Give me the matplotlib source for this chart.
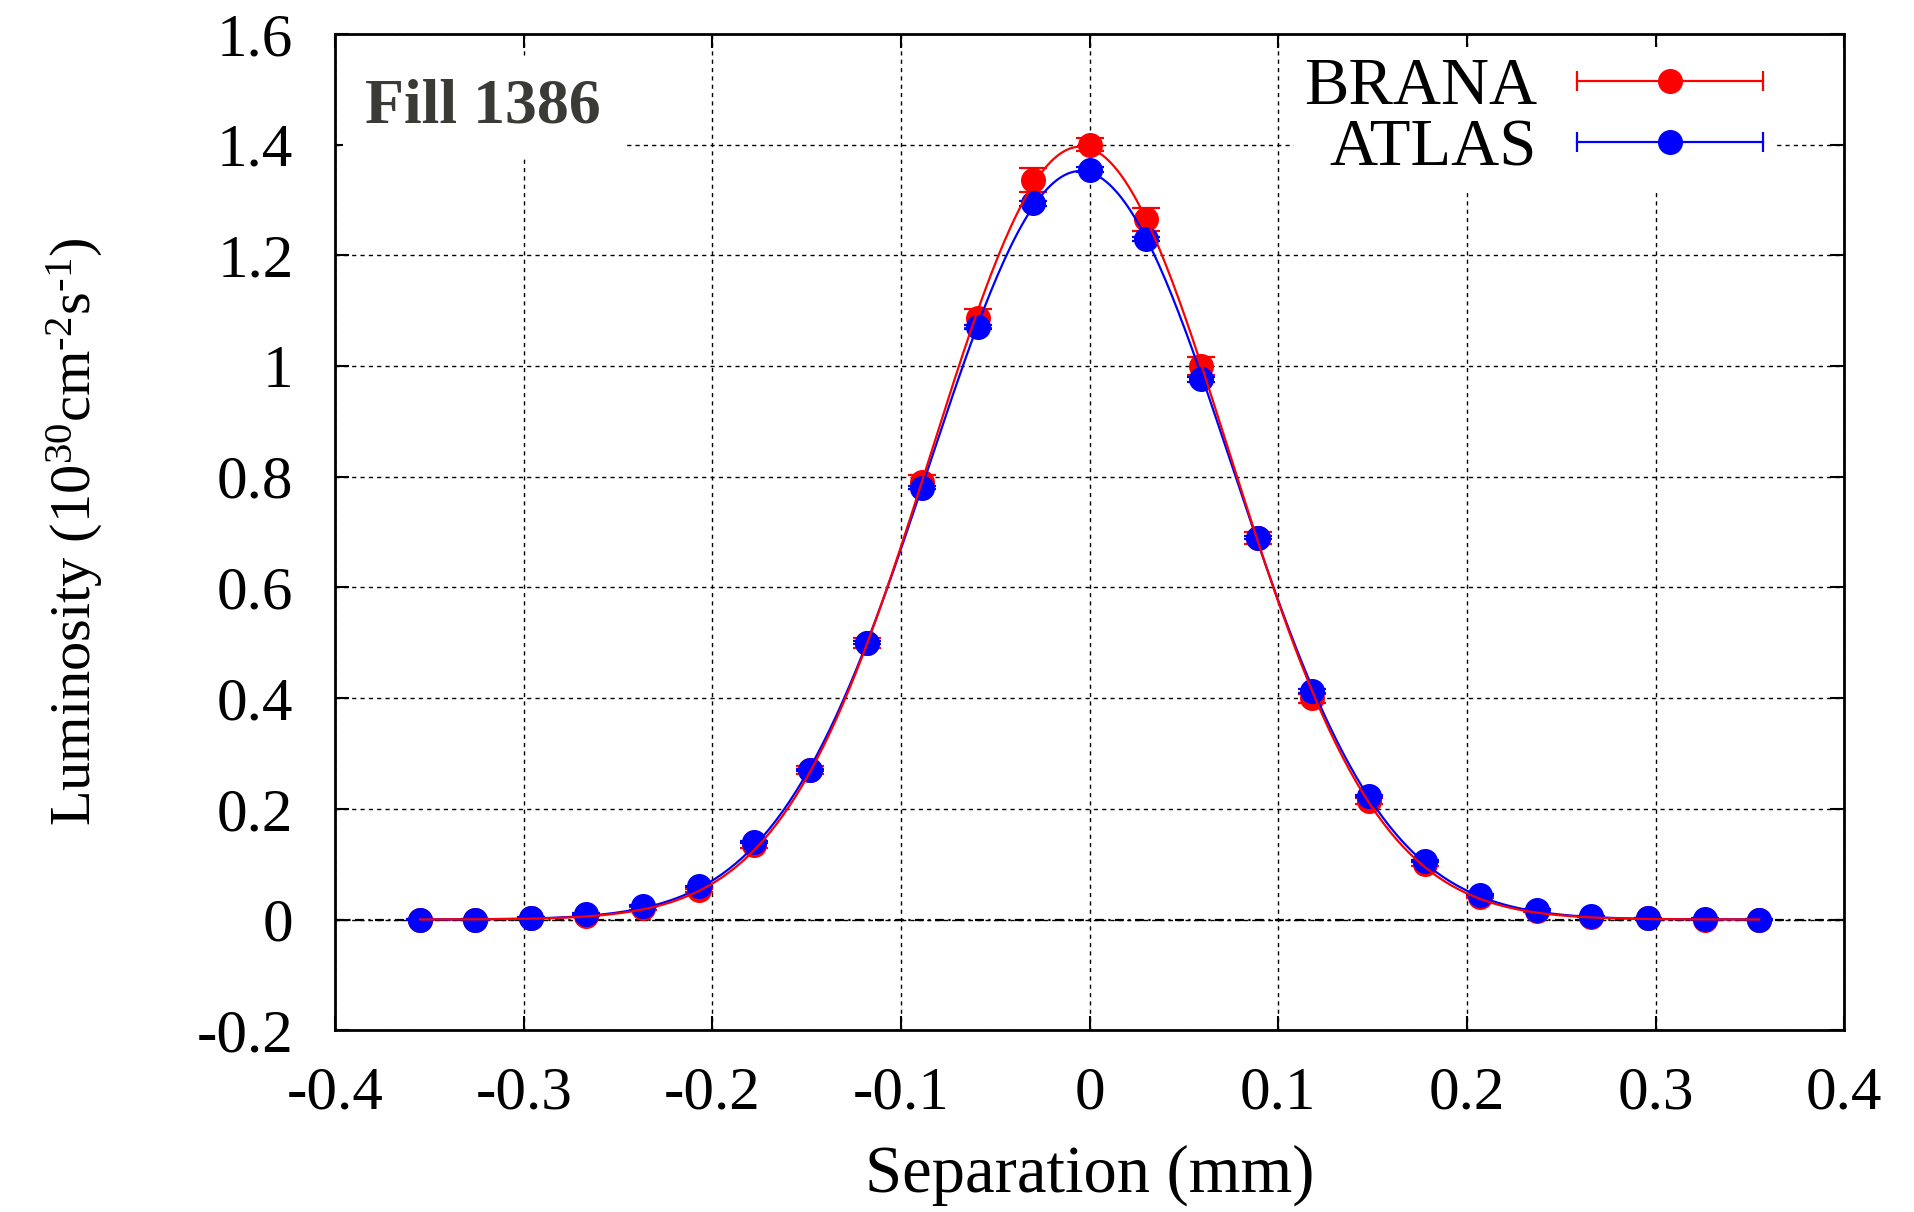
import numpy as np
import matplotlib
matplotlib.use("Agg")
import matplotlib.pyplot as plt
from matplotlib.lines import Line2D
from matplotlib.legend_handler import HandlerBase

plt.rcParams['font.family'] = ['Liberation Serif', 'DejaVu Serif']
plt.rcParams['mathtext.fontset'] = 'custom'
plt.rcParams['mathtext.rm'] = 'Liberation Serif'
plt.rcParams['mathtext.it'] = 'Liberation Serif:italic'

# ---- data ----
separation = [-0.355, -0.326, -0.296, -0.267, -0.237, -0.207, -0.178, -0.148,
              -0.118, -0.089, -0.059, -0.030, 0.0, 0.030, 0.059, 0.089, 0.118,
              0.148, 0.178, 0.207, 0.237, 0.266, 0.296, 0.326, 0.355]
brana = [0.0, 0.0, 0.003, 0.007, 0.02, 0.053, 0.135, 0.27, 0.50, 0.79, 1.086,
         1.336, 1.40, 1.265, 1.0, 0.69, 0.40, 0.214, 0.10, 0.04, 0.015, 0.005,
         0.002, 0.0, 0.0]
brana_err = [0.001, 0.001, 0.001, 0.001, 0.002, 0.003, 0.005, 0.007, 0.009, 0.013,
             0.017, 0.021, 0.012, 0.021, 0.016, 0.011, 0.008, 0.005, 0.004, 0.002,
             0.001, 0.001, 0.001, 0.001, 0.001]
atlas = [0.0, 0.0, 0.003, 0.01, 0.025, 0.06, 0.14, 0.27, 0.50, 0.78, 1.07,
         1.294, 1.355, 1.23, 0.976, 0.69, 0.413, 0.223, 0.106, 0.045, 0.018,
         0.006, 0.002, 0.001, 0.0]
atlas_err = [0.001, 0.001, 0.001, 0.001, 0.001, 0.001, 0.002, 0.002, 0.003, 0.003,
             0.004, 0.004, 0.004, 0.004, 0.004, 0.003, 0.003, 0.002, 0.002, 0.001,
             0.001, 0.001, 0.001, 0.001, 0.001]
labels = ["BRANA", "ATLAS"]
colors = ["#ff0000", "#0000ff"]
xticks = [-0.4, -0.3, -0.2, -0.1, 0, 0.1, 0.2, 0.3, 0.4]
yticks = [-0.2, 0, 0.2, 0.4, 0.6, 0.8, 1, 1.2, 1.4, 1.6]
fill_label = "Fill 1386"


def gauss_fit(x, y):
    x = np.asarray(x); y = np.asarray(y)
    m = y > 0.01
    c = np.polyfit(x[m], np.log(y[m]), 2, w=y[m])
    xs = np.linspace(min(x), max(x), 400)
    return xs, np.exp(np.polyval(c, xs))


class ErrHandler(HandlerBase):
    def create_artists(self, legend, orig_handle, xdescent, ydescent,
                       width, height, fontsize, trans):
        col = orig_handle.get_color()
        y = height / 2.0 - ydescent
        x0, x1 = -xdescent, width - xdescent
        line = Line2D([x0, x1], [y, y], color=col, lw=1.6)
        caps = Line2D([x0, x1], [y, y], ls='none', marker='|', ms=14,
                      mew=1.6, color=col)
        dot = Line2D([(x0 + x1) / 2.0], [y], ls='none', marker='o', ms=17,
                     color=col)
        for a in (line, caps, dot):
            a.set_transform(trans)
        return [line, caps, dot]


fig = plt.figure(figsize=(19.15, 12.12), dpi=100)
ax = fig.add_axes([0.175, 0.150, 0.788, 0.822])

for ys, es, col, z in [(brana, brana_err, colors[0], 3),
                       (atlas, atlas_err, colors[1], 4)]:
    ax.errorbar(separation, ys, yerr=es, fmt='o', color=col, ms=17,
                elinewidth=1.6, capsize=10, capthick=1.6, zorder=z)
handles = []
for ys, col, lab, z in [(atlas, colors[1], labels[1], 5),
                        (brana, colors[0], labels[0], 6)]:
    xs, fy = gauss_fit(separation, ys)
    h, = ax.plot(xs, fy, color=col, lw=1.6, zorder=z, label=lab)
    handles.append(h)
handles = handles[::-1]

ax.set_xlim(-0.4, 0.4)
ax.set_ylim(-0.2, 1.6)
ax.set_xticks(xticks)
ax.set_yticks(yticks)
ax.set_xticklabels([f"{t:g}" for t in xticks])
ax.set_yticklabels([f"{t:g}" for t in yticks])
ax.tick_params(direction='in', top=True, right=True, length=10, width=1.5,
               labelsize=44, pad=26)
ax.tick_params(axis='y', pad=30)
for s in ax.spines.values():
    s.set_linewidth(2)
ax.grid(True, color='black', lw=1.0, ls=(0, (3, 3)))
ax.set_axisbelow(True)
ax.axhline(0, color='black', lw=1.6, ls=(0, (4, 2, 1, 2)), zorder=1)

ax.set_xlabel("Separation (mm)", fontsize=48, labelpad=16)
ax.set_ylabel(r"Luminosity (10$^{30}$cm$^{\text{-2}}$s$^{\text{-1}}$)",
              fontsize=42, labelpad=66)

ax.text(0.02, 0.955, fill_label, transform=ax.transAxes, fontsize=46,
        fontweight='bold', color='#3a3a36', va='top', ha='left', zorder=7,
        bbox=dict(facecolor='white', edgecolor='none', pad=16))

leg = ax.legend(handles=handles, labels=labels, loc='upper right',
                handler_map={h: ErrHandler() for h in handles},
                markerfirst=False, fontsize=48, frameon=True,
                handlelength=2.8, handletextpad=0.6, labelspacing=0.0,
                borderaxespad=0.2, borderpad=0.15, framealpha=1.0,
                bbox_to_anchor=(0.962, 1.0))
leg.get_frame().set_edgecolor('none')
leg.get_frame().set_facecolor('white')
leg.get_frame().set_boxstyle('square', pad=0.0)
for t in leg.get_texts():
    t.set_ha('right')
leg.set_zorder(8)

fig.savefig("out.png", dpi=100)
